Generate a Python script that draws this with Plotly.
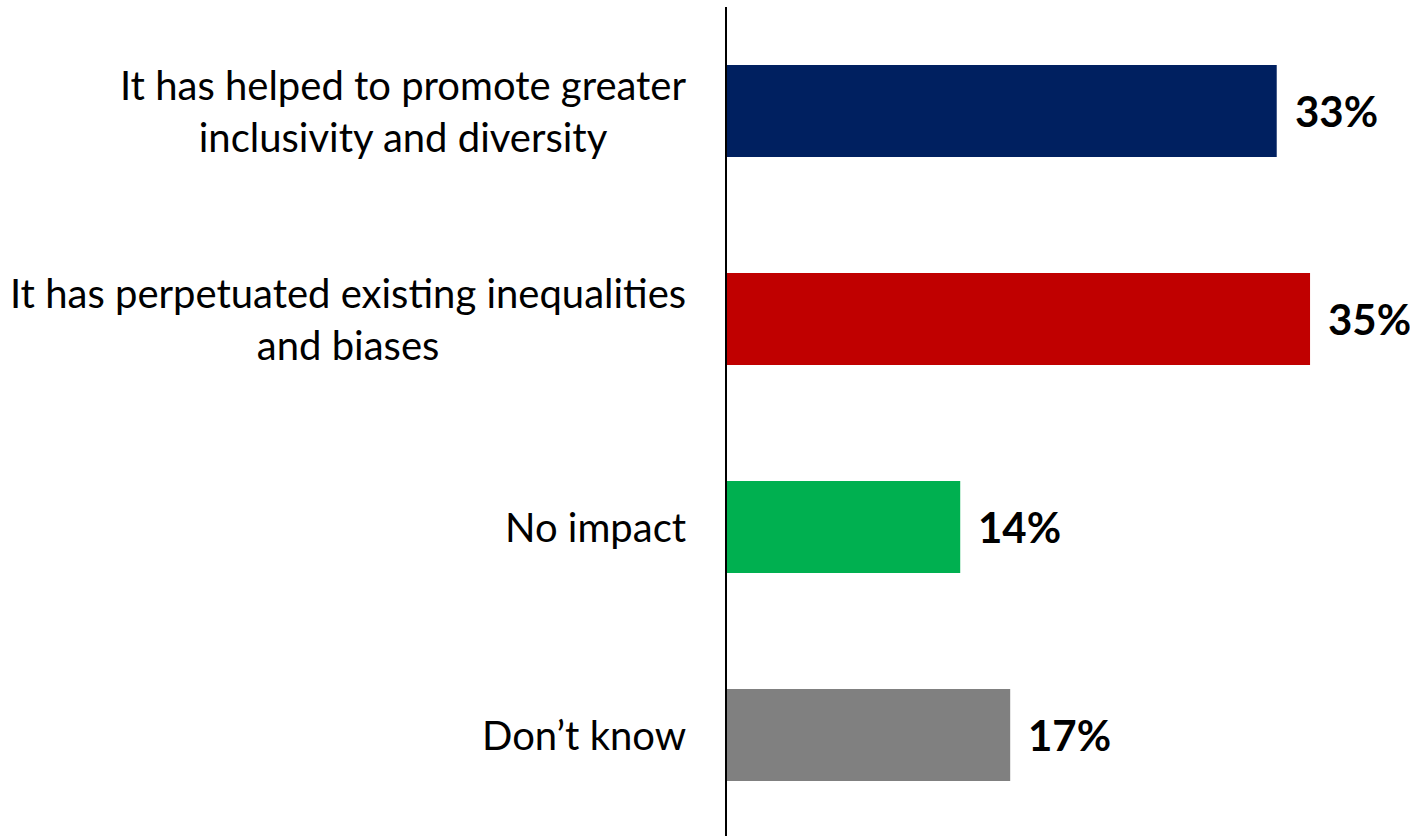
import plotly.graph_objects as go

# Survey responses on impact
categories = [
    "It has helped to promote greater<br>inclusivity and diversity",
    "It has perpetuated existing inequalities<br>and biases",
    "No impact",
    "Don\u2019t know",
]
values = [33, 35, 14, 17]
value_labels = ["33%", "35%", "14%", "17%"]
colors = ["#002060", "#C00000", "#00B050", "#808080"]

positions = list(range(len(categories)))

fig = go.Figure()
fig.add_trace(go.Bar(
    x=values,
    y=positions,
    orientation="h",
    marker=dict(color=colors, line=dict(width=0)),
    hoverinfo="skip",
))

# Value labels just past the end of each bar
for pos, val, lab in zip(positions, values, value_labels):
    fig.add_annotation(
        x=val, y=pos, text=f"<b>{lab}</b>", showarrow=False,
        xanchor="left", yanchor="middle", xshift=16,
        font=dict(family="Lato", size=42, color="#000000"),
    )

# Category labels: right-anchored blocks, lines centred within each block
for pos, cat in zip(positions, categories):
    fig.add_annotation(
        x=0, xref="paper", y=pos, yref="y", text=cat, showarrow=False,
        xanchor="right", yanchor="middle", align="center", xshift=-39,
        font=dict(family="Lato", size=40, color="#000000"),
    )

fig.update_layout(
    width=1410, height=836,
    margin=dict(l=727, r=0, t=7, b=0),
    paper_bgcolor="white", plot_bgcolor="white",
    bargap=0.558,
    showlegend=False,
    xaxis=dict(range=[0, 41], visible=False, fixedrange=True),
    yaxis=dict(
        range=[3.486, -0.5],
        showticklabels=False,
        showline=True, linecolor="#000000", linewidth=2,
        showgrid=False, zeroline=False, ticks="",
        fixedrange=True,
    ),
)

fig.write_html("out.html")
